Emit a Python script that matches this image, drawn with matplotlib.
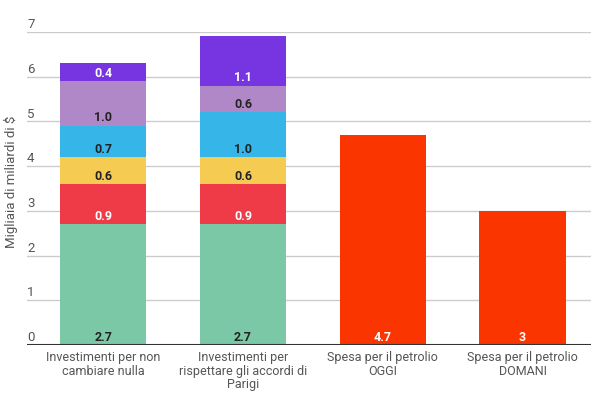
import matplotlib
matplotlib.use("Agg")
import matplotlib.pyplot as plt
import numpy as np

plt.rcParams['font.family'] = ['Roboto', 'DejaVu Sans']

categories = ["Investimenti per non\ncambiare nulla",
              "Investimenti per\nrispettare gli accordi di\nParigi",
              "Spesa per il petrolio\nOGGI",
              "Spesa per il petrolio\nDOMANI"]

# stacked segments for the two investment bars
seg1 = [2.7, 2.7, 0, 0]
seg2 = [0.9, 0.9, 0, 0]
seg3 = [0.6, 0.6, 0, 0]
seg4 = [0.7, 1.0, 0, 0]
seg5 = [1.0, 0.6, 0, 0]
seg6 = [0.4, 1.1, 0, 0]
oil = [0, 0, 4.7, 3]
oil_labels = ["4.7", "3"]

segments = [seg1, seg2, seg3, seg4, seg5, seg6]
seg_colors = ["#7bc8a6", "#ef3b48", "#f6cb52", "#35b5e8", "#b088c7", "#7735e2"]
seg_text = ["#222222", "#ffffff", "#222222", "#222222", "#222222", "#ffffff"]
oil_color = "#fb3500"
yticks = [0, 1, 2, 3, 4, 5, 6, 7]

fig = plt.figure(figsize=(6, 4), dpi=100)
ax = fig.add_axes([0.045, 0.1375, 0.94, 0.7825])
x = np.arange(len(categories))
w = 0.617
off_px = 8
ppu = 45.0

bottom = np.zeros(len(categories))
for vals, col, tc in zip(segments, seg_colors, seg_text):
    vals = np.array(vals, dtype=float)
    ax.bar(x, vals, w, bottom=bottom, color=col, zorder=2)
    for i, v in enumerate(vals):
        if v > 0:
            ax.text(x[i], bottom[i] + off_px / ppu, f"{v:.1f}", ha="center", va="center",
                    color=tc, fontsize=9, fontweight="bold", zorder=3)
    bottom += vals

oil = np.array(oil, dtype=float)
ax.bar(x, oil, w, color=oil_color, zorder=2)
k = 0
for i, v in enumerate(oil):
    if v > 0:
        ax.text(x[i], off_px / ppu, oil_labels[k], ha="center", va="center",
                color="#ffffff", fontsize=9, fontweight="bold", zorder=3)
        k += 1

ax.set_xlim(-0.545, 3.49)
ax.set_ylim(0, 7)
for s in ax.spines.values():
    s.set_visible(False)
ax.set_yticks(yticks)
ax.set_yticklabels([])
ax.tick_params(axis="y", length=0)
ax.grid(axis="y", color="#cccccc", linewidth=1, zorder=0)
ax.axhline(0, color="#333333", linewidth=1.5, zorder=4)
for t in yticks:
    ax.text(0.0, t + 0.02, str(t), transform=ax.get_yaxis_transform(), ha="left", va="bottom",
            color="#555555", fontsize=9.5)

ax.set_xticks(x)
ax.set_xticklabels(categories, fontsize=9, color="#555555", linespacing=1.05)
ax.tick_params(axis="x", length=0, pad=4.5)

fig.text(0.018, 0.545, "Migliaia di miliardi di $", rotation=90, ha="center", va="center",
         color="#555555", fontsize=9.5)

fig.savefig("out.png", dpi=100)
